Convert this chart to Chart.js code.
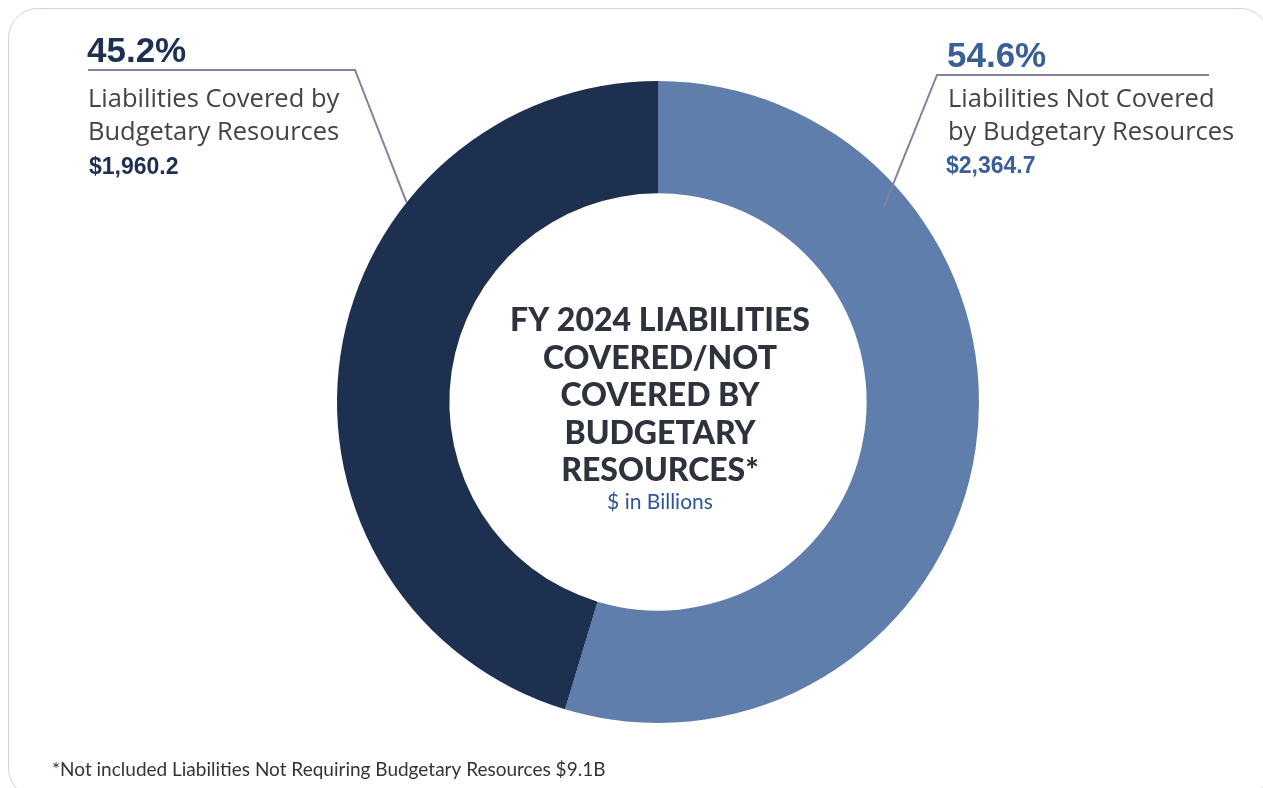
<!DOCTYPE html>
<html>
<head>
<meta charset="utf-8">
<script src="https://cdn.jsdelivr.net/npm/chart.js@4.4.1/dist/chart.umd.min.js"></script>
<style>
    html, body { margin: 0; padding: 0; background: #fff; overflow: hidden; }
    .card {
        position: absolute; left: 8px; top: 8px; width: 1262px; height: 790px;
        border: 1.5px solid #d3d3db; border-radius: 30px; box-sizing: border-box;
    }
    .wrap { position: absolute; left: 0; top: 0; width: 1263px; height: 788px; }
</style>
</head>
<body>
<div class="card"></div>
<div class="wrap"><canvas id="donut" width="1263" height="788"></canvas></div>
<script>
// Liabilities covered / not covered, $ in billions
const LABELS = ['Liabilities Not Covered by Budgetary Resources', 'Liabilities Covered by Budgetary Resources'];
const VALUES = [2364.7, 1960.2];
const PERCENTS = ['54.6%', '45.2%'];
const AMOUNTS = ['$2,364.7', '$1,960.2'];
const COLORS = ['#5f7eab', '#1e3050'];
const TEXT_COLORS = ['#3a5f96', '#1e3050'];

const CENTER_TITLE = ['FY 2024 LIABILITIES', 'COVERED/NOT', 'COVERED BY', 'BUDGETARY', 'RESOURCES*'];
const CENTER_SUB = '$ in Billions';
const FOOTNOTE = '*Not included Liabilities Not Requiring Budgetary Resources $9.1B';

const LINE_COLOR = '#8580a2';

// point on a slice, at a fraction of its angle span and of the outer radius
function arcPoint(arc, frac, rFactor) {
    const a = arc.startAngle + (arc.endAngle - arc.startAngle) * frac;
    const r = arc.outerRadius * rFactor;
    return { x: arc.x + Math.cos(a) * r, y: arc.y + Math.sin(a) * r };
}

const calloutPlugin = {
    id: 'callouts',
    afterDraw(chart) {
        const ctx = chart.ctx;
        const arcs = chart.getDatasetMeta(0).data;
        ctx.save();

        // leader lines
        ctx.strokeStyle = LINE_COLOR;
        ctx.lineWidth = 2;
        const pR = arcPoint(arcs[0], 0.25, 0.93);
        ctx.beginPath();
        ctx.moveTo(pR.x, pR.y);
        ctx.lineTo(937, 75);
        ctx.lineTo(1209, 75);
        ctx.stroke();

        const pL = arcPoint(arcs[1], 0.684, 1.0);
        ctx.beginPath();
        ctx.moveTo(pL.x, pL.y);
        ctx.lineTo(355, 70);
        ctx.lineTo(88, 70);
        ctx.stroke();

        ctx.textBaseline = 'middle';
        ctx.textAlign = 'left';

        // left label
        ctx.fillStyle = TEXT_COLORS[1];
        ctx.font = 'bold 35px "Liberation Sans", Arial, sans-serif';
        ctx.fillText(PERCENTS[1], 87, 52);
        ctx.fillStyle = '#444448';
        ctx.font = '25.5px "Open Sans", sans-serif';
        ctx.fillText('Liabilities Covered by', 88, 100);
        ctx.fillText('Budgetary Resources', 88, 133);
        ctx.fillStyle = TEXT_COLORS[1];
        ctx.font = 'bold 23px "Liberation Sans", Arial, sans-serif';
        ctx.fillText(AMOUNTS[1], 89, 168);

        // right label
        ctx.fillStyle = TEXT_COLORS[0];
        ctx.font = 'bold 35px "Liberation Sans", Arial, sans-serif';
        ctx.fillText(PERCENTS[0], 947, 57);
        ctx.fillStyle = '#444448';
        ctx.font = '25.5px "Open Sans", sans-serif';
        ctx.fillText('Liabilities Not Covered', 948, 100);
        ctx.fillText('by Budgetary Resources', 948, 133);
        ctx.fillStyle = TEXT_COLORS[0];
        ctx.font = 'bold 23px "Liberation Sans", Arial, sans-serif';
        ctx.fillText(AMOUNTS[0], 946, 167);

        // center title
        const cx = arcs[0].x;
        ctx.textAlign = 'center';
        ctx.fillStyle = '#2e323c';
        ctx.font = '900 32px Lato, sans-serif';
        CENTER_TITLE.forEach((line, i) => {
            ctx.fillText(line, cx + 2, 321 + i * 37.5);
        });
        ctx.fillStyle = '#2f5597';
        ctx.font = '21px Lato, sans-serif';
        ctx.fillText(CENTER_SUB, cx + 2, 502);

        // footnote
        ctx.textAlign = 'left';
        ctx.fillStyle = '#33343a';
        ctx.font = '19px Lato, sans-serif';
        ctx.fillText(FOOTNOTE, 52, 770);

        ctx.restore();
    }
};

new Chart(document.getElementById('donut'), {
    type: 'doughnut',
    data: {
        labels: LABELS,
        datasets: [{
            data: VALUES,
            backgroundColor: COLORS,
            borderWidth: 0
        }]
    },
    options: {
        responsive: false,
        animation: false,
        cutout: '65%',
        layout: { padding: { top: 81, bottom: 65, left: 337, right: 284 } },
        plugins: {
            legend: { display: false },
            tooltip: { enabled: false }
        }
    },
    plugins: [calloutPlugin]
});
</script>
</body>
</html>
